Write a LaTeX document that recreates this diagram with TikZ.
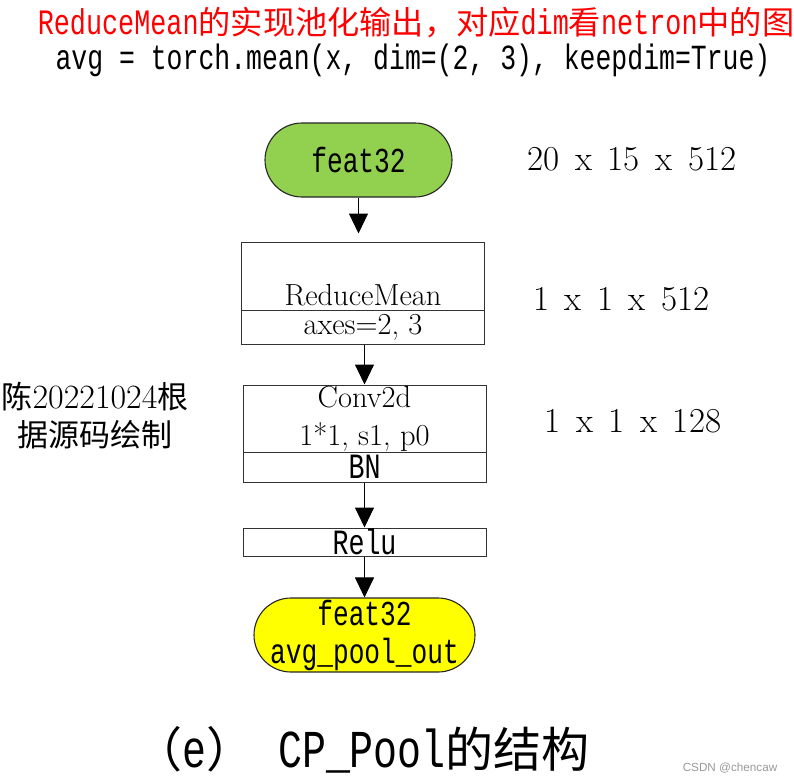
\documentclass[tikz,border=0pt]{standalone}
\usepackage{fontspec}
\usetikzlibrary{arrows.meta}
\newfontfamily\cjk{Noto Sans CJK SC}
\newfontfamily\hm{Liberation Mono}[FakeStretch=0.75,Scale=1.11]
\newfontfamily\wmark{Liberation Sans}
\newcommand{\sz}[2]{\fontsize{#1pt}{#2pt}\selectfont}
\newcommand{\widesp}{\spaceskip=15.5pt\relax}
\definecolor{featgreen}{HTML}{92D050}
\definecolor{featyellow}{HTML}{FFFF00}
\begin{document}
\begin{tikzpicture}[x=1pt, y=-1pt,
          term/.style={draw=black!85, line width=1.1pt, rounded corners=37pt, minimum height=74pt, align=center, inner sep=0pt, font=\hm\sz{31.5}{38}},
          cell/.style={draw=black!80, line width=1pt, minimum width=243pt, inner sep=0pt, align=center, font=\sz{30.5}{38}},
          dims/.style={inner sep=0pt, font=\sz{35}{40}\widesp},
          rel/.style={-{Triangle[width=19pt,length=20pt]}, line width=1pt}]
        \useasboundingbox (0,0) rectangle (794,782);
        \node[text=red, inner sep=0pt, font=\sz{32.2}{40}] (ttl) at (416,23) {\hm ReduceMean\cjk 的实现池化输出，对应\hm dim\cjk 看\hm netron\cjk 中的图};
        \node[inner sep=0pt, font=\hm\sz{31.8}{38}] (code) at (413,60) {avg = torch.mean(x, dim=(2, 3), keepdim=True)};
        \node[term, fill=featgreen, minimum width=187pt] (src) at (358.5,160) {feat32};
        \node[cell, minimum height=68pt] (rm) at (363,276) {};
        \node[anchor=base, inner sep=0pt, font=\sz{30.5}{38}] (rmt) at (363,305) {ReduceMean};
        \node[cell, minimum height=34pt] (ax) at (363,327) {axes=2, 3};
        \node[cell, minimum height=67pt] (cv) at (364.5,418.5) {Conv2d\\1*1, s1, p0};
        \node[cell, minimum height=30pt, font=\hm\sz{32}{38}] (bn) at (364.5,467) {BN};
        \node[cell, minimum height=28pt, font=\hm\sz{32}{38}] (re) at (364.5,542) {Relu};
        \node[term, fill=featyellow, minimum width=221pt] (out) at (364.5,635) {feat32\\avg\_pool\_out};
        \node[dims] (d1) at (632,159) {20 x 15 x 512};
        \node[dims] (d2) at (621.5,299.5) {1 x 1 x 512};
        \node[dims] (d3) at (633,421.5) {1 x 1 x 128};
        \node[align=center, inner sep=0pt, font=\cjk\sz{31}{38}] (auth) at (95,416) {陈{\rmfamily\sz{34}{38}20221024}根\\据源码绘制};
        \node[inner sep=0pt, font=\sz{48}{56}] (cap) at (362,750) {\cjk （\hm e\cjk ）\hm\ CP\_Pool\cjk 的结构};
        \node[inner sep=0pt, text=black!40, font=\wmark\sz{11.7}{14}] (wm) at (730,768) {CSDN @chencaw};
        \draw[rel, shorten >=8pt] (src) -- (src |- rm.north);
        \draw[rel] (cv |- ax.south) -- (cv);
        \draw[rel] (bn) -- (re);
        \draw[rel] (re) -- (out);
      \end{tikzpicture}
\end{document}
